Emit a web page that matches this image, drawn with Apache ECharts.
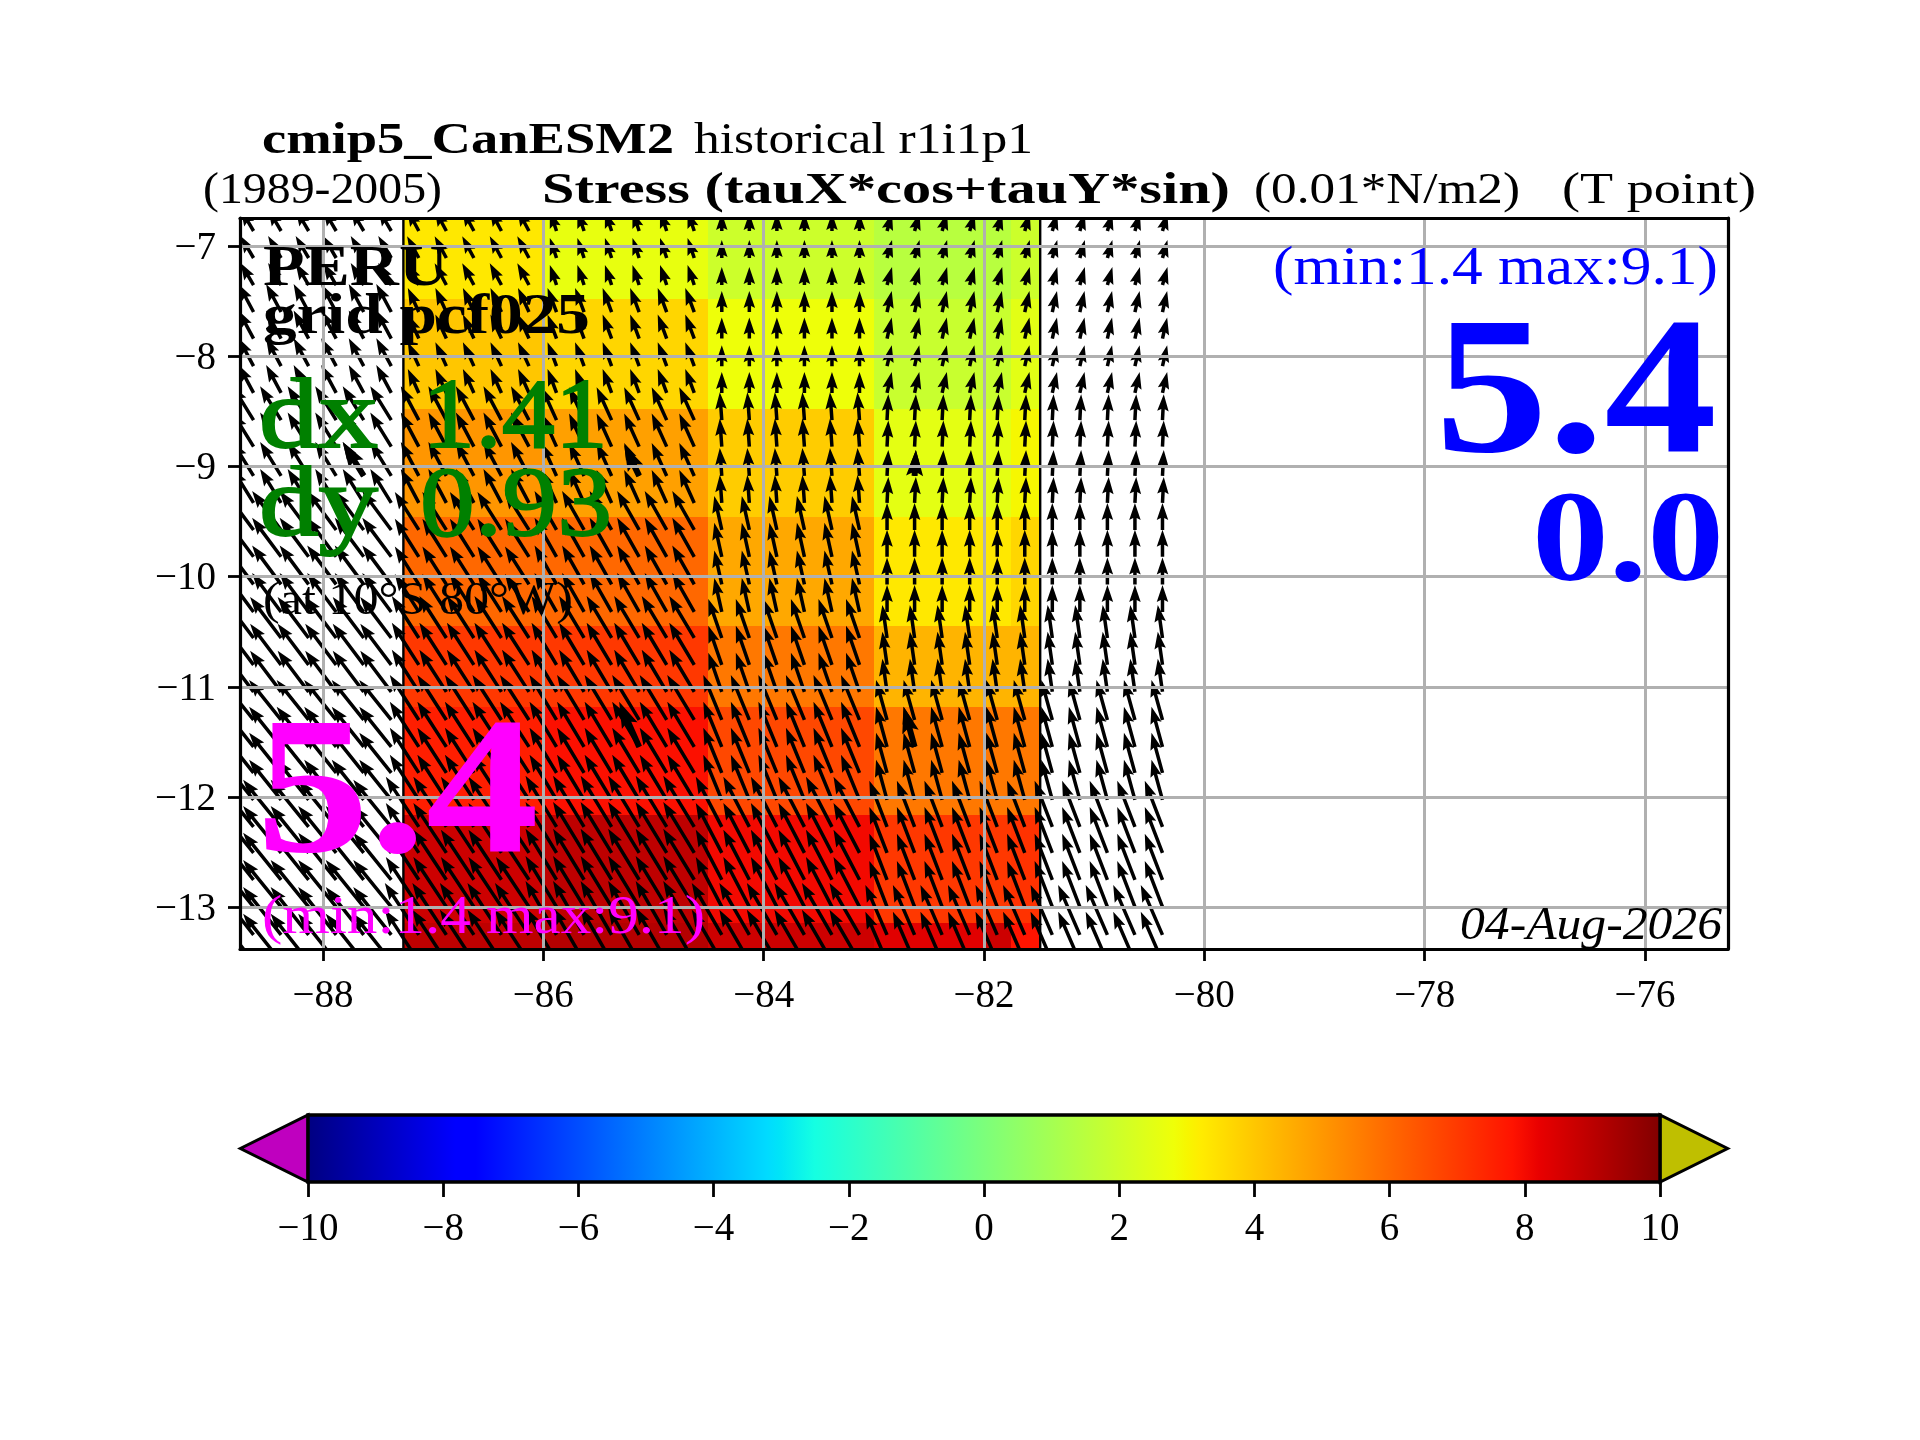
<!DOCTYPE html>
<html><head><meta charset="utf-8"><style>html,body{margin:0;padding:0;background:#fff}#c{width:1920px;height:1440px}</style>
<script src="https://cdn.jsdelivr.net/npm/echarts@6/dist/echarts.min.js"></script></head><body><div id="c"></div><script>
const xRange=[-88.753,-75.247], yRange=[-13.378,-6.746];
const xTicks=[-88,-86,-84,-82,-80,-78,-76];
const yTicks=[-13,-12,-11,-10,-9,-8,-7];
const cbarTicks=[-10,-8,-6,-4,-2,0,2,4,6,8,10];
// shaded cells
const lonEdges=[-87.27,-86.0,-84.506,-83.0,-82.0,-81.757,-81.49];
const latEdges=[-6.746,-7.48,-8.478,-9.458,-10.447,-11.18,-12.16,-13.14,-13.378];
const cellValues=[
[3.29,2.64,1.96,1.47,1.47,1.96],
[4.0,3.67,2.79,1.86,1.86,2.5],
[5.02,4.81,3.88,2.54,2.54,2.98],
[6.0,6.0,4.64,3.29,3.29,3.67],
[7.01,7.01,5.66,4.39,4.39,4.39],
[7.56,7.86,6.68,5.66,5.66,5.66],
[8.66,8.92,8.0,7.01,7.01,7.14],
[8.92,9.1,8.66,8.32,8.66,7.78]];
// wind-stress arrows: tail grid and block vectors
const arrowLons=[-88.63,-88.38,-88.13,-87.88,-87.63,-87.38,-87.13,-86.88,-86.63,-86.38,-86.13,-85.88,-85.63,-85.38,-85.13,-84.88,-84.63,-84.38,-84.13,-83.88,-83.63,-83.38,-83.13,-82.88,-82.63,-82.38,-82.13,-81.88,-81.63,-81.38,-81.13,-80.88,-80.63,-80.38];
const arrowLats=[-6.864,-7.109,-7.354,-7.599,-7.84,-8.09,-8.333,-8.58,-8.82,-9.086,-9.331,-9.576,-9.82,-10.07,-10.32,-10.556,-10.80,-11.045,-11.30,-11.544,-11.78,-12.025,-12.27,-12.506,-12.75,-12.996,-13.25,-13.494];
const arrowBlockLons=[-87.27,-86.0,-84.506,-83.0];
const arrowU=[
[-13,-11.7,-6.7,0,5],
[-15,-11,-9,0,4.7],
[-21,-18,-15,-2,1.3],
[-29,-24,-22,-7.5,0],
[-31,-27,-25,-13.5,-4.7],
[-32,-29,-27,-18.5,-11],
[-38,-33,-31,-26,-17.7],
[-38,-34,-31,-30,-21.7]];
const arrowV=[
[22,21.7,20,18,18],
[28,24,24,21,21],
[34,34,33,28,26],
[39,38,39,34,27],
[41,42,42,39,33],
[40,45,45,45,40],
[47,50,51,50,46],
[48,52,54,52,50]];
const heavyArrows=[[-87.63,-9.086,-21,34],[-85.13,-9.086,-15,31],[-82.63,-9.086,1.3,26],[-85.13,-11.544,-20,45],[-82.63,-11.544,-11,40]];
const maskEdges=[-87.27,-81.49];

const jetR=[[0,0],[.35,0],[.66,1],[.89,1],[1,.5]];
const jetG=[[0,0],[.125,0],[.375,1],[.64,1],[.91,0],[1,0]];
const jetB=[[0,.5],[.11,1],[.34,1],[.65,0],[1,0]];
const jetStopsT=[0,.11,.125,.34,.35,.375,.64,.65,.66,.89,.91,1];
function ch(n,t){for(let i=1;i<n.length;i++){if(t<=n[i][0]){const a=n[i-1],b=n[i];return a[1]+(b[1]-a[1])*(t-a[0])/(b[0]-a[0]);}}return n[n.length-1][1];}
function jet(t){return 'rgb('+[jetR,jetG,jetB].map(n=>Math.round(255*ch(n,t))).join(',')+')';}
function valueColor(v){return jet((v+10)/20);}

const cellData=[];
cellValues.forEach((row,r)=>row.forEach((v,c)=>cellData.push([lonEdges[c],lonEdges[c+1],latEdges[r],latEdges[r+1],v])));
function blockIndex(edges,val,desc){let i=0;while(i<edges.length&&(desc?val<edges[i]:val>=edges[i]))i++;return i;}
const arrowData=[];
arrowLats.forEach(la=>{const r=Math.min(7,blockIndex(latEdges.slice(1),la,true));
  arrowLons.forEach(lo=>{const c=blockIndex(arrowBlockLons,lo,false);arrowData.push([lo,la,arrowU[r][c],arrowV[r][c]]);});});

function arrowItem(w,hl,hw,ha){return function(p,api){
  const s=api.coord([api.value(0),api.value(1)]);const u=api.value(2),v=api.value(3);
  const L=Math.hypot(u,v);const ux=u/L,uy=-v/L;const nx=-uy,ny=ux;
  const pt=(a,b)=>[s[0]+ux*a+nx*b,s[1]+uy*a+ny*b];
  return {type:'polygon',shape:{points:[pt(0,-w/2),pt(L-ha,-w/2),pt(L-hl,-hw/2),pt(L,0),pt(L-hl,hw/2),pt(L-ha,w/2),pt(0,w/2)]},style:{fill:'#000'}};
};}

const SERIF='"Liberation Serif"';
const mctx=document.createElement('canvas').getContext('2d');
// text placed by left edge, baseline and width of the reference string
function txt(text,style,size,x0,x1,base,color,thick){
  const font=(style?style+' ':'')+size+'px '+SERIF;mctx.font=font;
  const w=mctx.measureText(text).width;
  const st={text:text,font:font,fill:color,textAlign:'left',textVerticalAlign:'middle'};
  if(thick){st.stroke=color;st.lineWidth=thick;}
  return {type:'text',z:100,x:x0,y:base-0.2625*size,scaleX:(x1-x0)/w,silent:true,style:st};
}
const BLUE='#0000ff',MAG='#ff00ff',GRN='#008000',BLK='#000';
const texts=[
 txt('cmip5_CanESM2','bold',45,262,674,153,BLK),
 txt('historical r1i1p1','',45,694,1033,153,BLK),
 txt('(1989-2005)','',45,203,442,203,BLK),
 txt('Stress (tauX*cos+tauY*sin)','bold',45,542,1230,203,BLK),
 txt('(0.01*N/m2)','',45,1254,1520,203,BLK),
 txt('(T point)','',45,1562,1756,203,BLK),
 txt('PERU','bold',57,263,448,285,BLK),
 txt('grid pcf025','bold',57,263,590,333,BLK),
 txt('dx','',100,259,378,446.7,GRN,1.8),
 txt('1.41','',100,422,608,446.7,GRN,1.8),
 txt('dy','',100,259,378,535,GRN,1.8),
 txt('0.93','',100,420,612,535,GRN,1.8),
 txt('(at 10°S 80°W)','',47,263,573,614,BLK),
 txt('5.4','bold',195,256,539,852,MAG),
 txt('(min:1.4 max:9.1)','',55,262,705,933,MAG),
 txt('(min:1.4 max:9.1)','',55,1273,1718,284,BLUE),
 txt('5.4','bold',195,1435,1717,452,BLUE),
 txt('0.0','bold',130,1532,1724,581,BLUE),
 txt('04-Aug-2026','italic',46,1460,1722,939,BLK)
];
const fmt=v=>String(v).replace('-','\u2212');
const label={color:'#000',fontFamily:SERIF,fontSize:39,formatter:fmt};
const tick={lineStyle:{color:'#000',width:2.8},length:12};
const grey={show:true,lineStyle:{color:'#b0b0b0',width:3}};
const spine={show:true,onZero:false,lineStyle:{color:'#000',width:3.2}};

const chart=echarts.init(document.getElementById('c'),null,{renderer:'canvas',width:1920,height:1440});
chart.setOption({
 animation:false,backgroundColor:'#fff',
 grid:[{left:240,top:218,width:1488,height:731},{left:308,top:1115,width:1352,height:67}],
 xAxis:[
  {type:'value',gridIndex:0,position:'bottom',min:xRange[0],max:xRange[1],z:5,axisLine:spine,
   axisTick:Object.assign({customValues:xTicks},tick),axisLabel:Object.assign({customValues:xTicks,margin:28},label),splitLine:grey},
  {type:'value',gridIndex:0,position:'top',min:xRange[0],max:xRange[1],z:6,axisLine:spine,axisTick:{show:false},axisLabel:{show:false},splitLine:{show:false}},
  {type:'value',gridIndex:1,position:'bottom',min:-10,max:10,interval:2,z:5,axisLine:{show:false},axisTick:Object.assign({},tick,{length:15}),
   axisLabel:Object.assign({margin:28,showMinLabel:true,showMaxLabel:true},label),splitLine:{show:false}}],
 yAxis:[
  {type:'value',gridIndex:0,position:'left',min:yRange[0],max:yRange[1],z:5,axisLine:spine,
   axisTick:Object.assign({customValues:yTicks},tick),axisLabel:Object.assign({customValues:yTicks,margin:24,verticalAlign:'top',lineHeight:5},label),splitLine:grey},
  {type:'value',gridIndex:0,position:'right',min:yRange[0],max:yRange[1],z:6,axisLine:spine,axisTick:{show:false},axisLabel:{show:false},splitLine:{show:false}},
  {type:'value',gridIndex:1,min:0,max:1,axisLine:{show:false},axisTick:{show:false},axisLabel:{show:false},splitLine:{show:false}}],
 series:[
  {type:'custom',name:'stress magnitude',coordinateSystem:'cartesian2d',xAxisIndex:0,yAxisIndex:0,z:1,clip:true,silent:true,progressive:0,
   encode:{x:[0,1],y:[2,3]},data:cellData,
   renderItem(p,api){const a=api.coord([api.value(0),api.value(2)]),b=api.coord([api.value(1),api.value(3)]);
     const x=Math.round(a[0]),y=Math.round(a[1]),x2=Math.round(b[0]),y2=Math.round(b[1]);
     return {type:'rect',shape:{x,y,width:x2-x,height:y2-y},style:{fill:valueColor(api.value(4))}};}},
  {type:'custom',name:'mask edge',coordinateSystem:'cartesian2d',xAxisIndex:0,yAxisIndex:0,z:2,clip:true,silent:true,
   encode:{x:0},data:maskEdges.map(v=>[v]),
   renderItem(p,api){const a=api.coord([api.value(0),yRange[0]]),b=api.coord([api.value(0),yRange[1]]);
     return {type:'line',shape:{x1:a[0],y1:a[1],x2:b[0],y2:b[1]},style:{stroke:'#000',lineWidth:2.4}};}},
  {type:'custom',name:'stress vectors',coordinateSystem:'cartesian2d',xAxisIndex:0,yAxisIndex:0,z:3,clip:true,silent:true,progressive:0,
   encode:{x:0,y:1},data:arrowData,renderItem:arrowItem(3.5,17,11.5,15)},
  {type:'custom',name:'heavy vectors',coordinateSystem:'cartesian2d',xAxisIndex:0,yAxisIndex:0,z:3,clip:true,silent:true,
   encode:{x:0,y:1},data:heavyArrows,renderItem:arrowItem(6,26,17,23)},
  {type:'custom',name:'colorbar',coordinateSystem:'cartesian2d',xAxisIndex:2,yAxisIndex:2,z:1,silent:true,
   encode:{x:[0,1]},data:[[-10,10]],
   renderItem(p,api){const a=api.coord([-10,0]),b=api.coord([10,1]),l=api.coord([-11,.5]),r=api.coord([11,.5]);
     const colorStops=jetStopsT.map(t=>({offset:t,color:jet(t)}));
     return {type:'group',children:[
      {type:'polygon',shape:{points:[a,[a[0],b[1]],l]},style:{fill:'#bf00bf',stroke:'#000',lineWidth:3}},
      {type:'polygon',shape:{points:[[b[0],a[1]],b,r]},style:{fill:'#bfbf00',stroke:'#000',lineWidth:3}},
      {type:'rect',shape:{x:a[0],y:b[1],width:b[0]-a[0],height:a[1]-b[1]},
       style:{fill:{type:'linear',x:0,y:0,x2:1,y2:0,colorStops},stroke:'#000',lineWidth:3.4}}]};}}
 ],
 graphic:{elements:texts}
});
</script></body></html>
